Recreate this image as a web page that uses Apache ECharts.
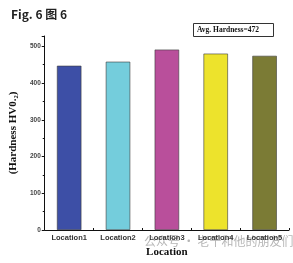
<!DOCTYPE html>
<html><head><meta charset="utf-8">
<script src="https://cdn.jsdelivr.net/npm/echarts@6/dist/echarts.min.js"></script>
<style>html,body{margin:0;padding:0;background:#fff}#c{width:293px;height:263px}</style>
</head><body><div id="c"></div>
<script>
const categories = ['Location1','Location2','Location3','Location4','Location5'];
const hardness = [447, 458, 491, 480, 474];
const barColors = ['#3d4fa6','#74cddc','#b94f9b','#ede32c','#7b7b35'];
const yTicks = [0,100,200,300,400,500];
const avgText = 'Avg. Hardness=472';

const chart = echarts.init(document.getElementById('c'));
chart.setOption({
  animation:false,
  backgroundColor:'#fff',
  title:{text:'Fig. 6 图 6',left:6,top:3,textStyle:{fontSize:12,fontWeight:'bold',color:'#222',fontFamily:'Noto Sans CJK SC'}},
  grid:{left:41,right:4,top:36,bottom:30},
  xAxis:{type:'category',data:categories,
    axisLine:{lineStyle:{color:'#111',width:1}},
    axisTick:{show:true,inside:true,length:2,lineStyle:{color:'#111'}},
    axisLabel:{fontSize:7.5,color:'#333',fontFamily:'Liberation Sans',fontWeight:'bold',margin:4},
    name:'Location',nameLocation:'middle',nameGap:17,
    nameTextStyle:{fontSize:11,fontWeight:'bold',fontFamily:'Liberation Serif',color:'#111'}},
  yAxis:{type:'value',min:0,max:528,interval:100,
    axisLine:{show:true,lineStyle:{color:'#111',width:1}},
    axisTick:{show:true,length:3,lineStyle:{color:'#111'}},
    minorTick:{show:true,splitNumber:2,length:2,lineStyle:{color:'#111'}},
    splitLine:{show:false},
    axisLabel:{fontSize:6.5,color:'#444',fontWeight:'bold',fontFamily:'Liberation Sans',margin:4,
      formatter:v=>yTicks.includes(v)?String(v):''},
    name:'(Hardness HV0.₂)',nameLocation:'middle',nameGap:22,nameRotate:90,
    nameTextStyle:{fontSize:11,fontWeight:'bold',fontFamily:'Liberation Serif',color:'#111'}},
  series:[{type:'bar',barWidth:'50%',
    data:hardness.map((v,i)=>({value:v,itemStyle:{color:barColors[i],borderColor:'#3a3a3a',borderWidth:0.6}}))}],
  graphic:[
    {type:'rect',left:193,top:23,shape:{width:80,height:13},style:{fill:'#fff',stroke:'#333',lineWidth:1}},
    {type:'text',left:197,top:26,style:{text:avgText,font:'bold 7.5px "Liberation Serif"',fill:'#111'}},
    {type:'text',left:144,top:235,style:{text:'公众号 · 老千和他的朋友们',font:'12px "Noto Sans CJK SC"',fill:'rgba(120,120,120,0.55)'}}
  ]
});
</script></body></html>
